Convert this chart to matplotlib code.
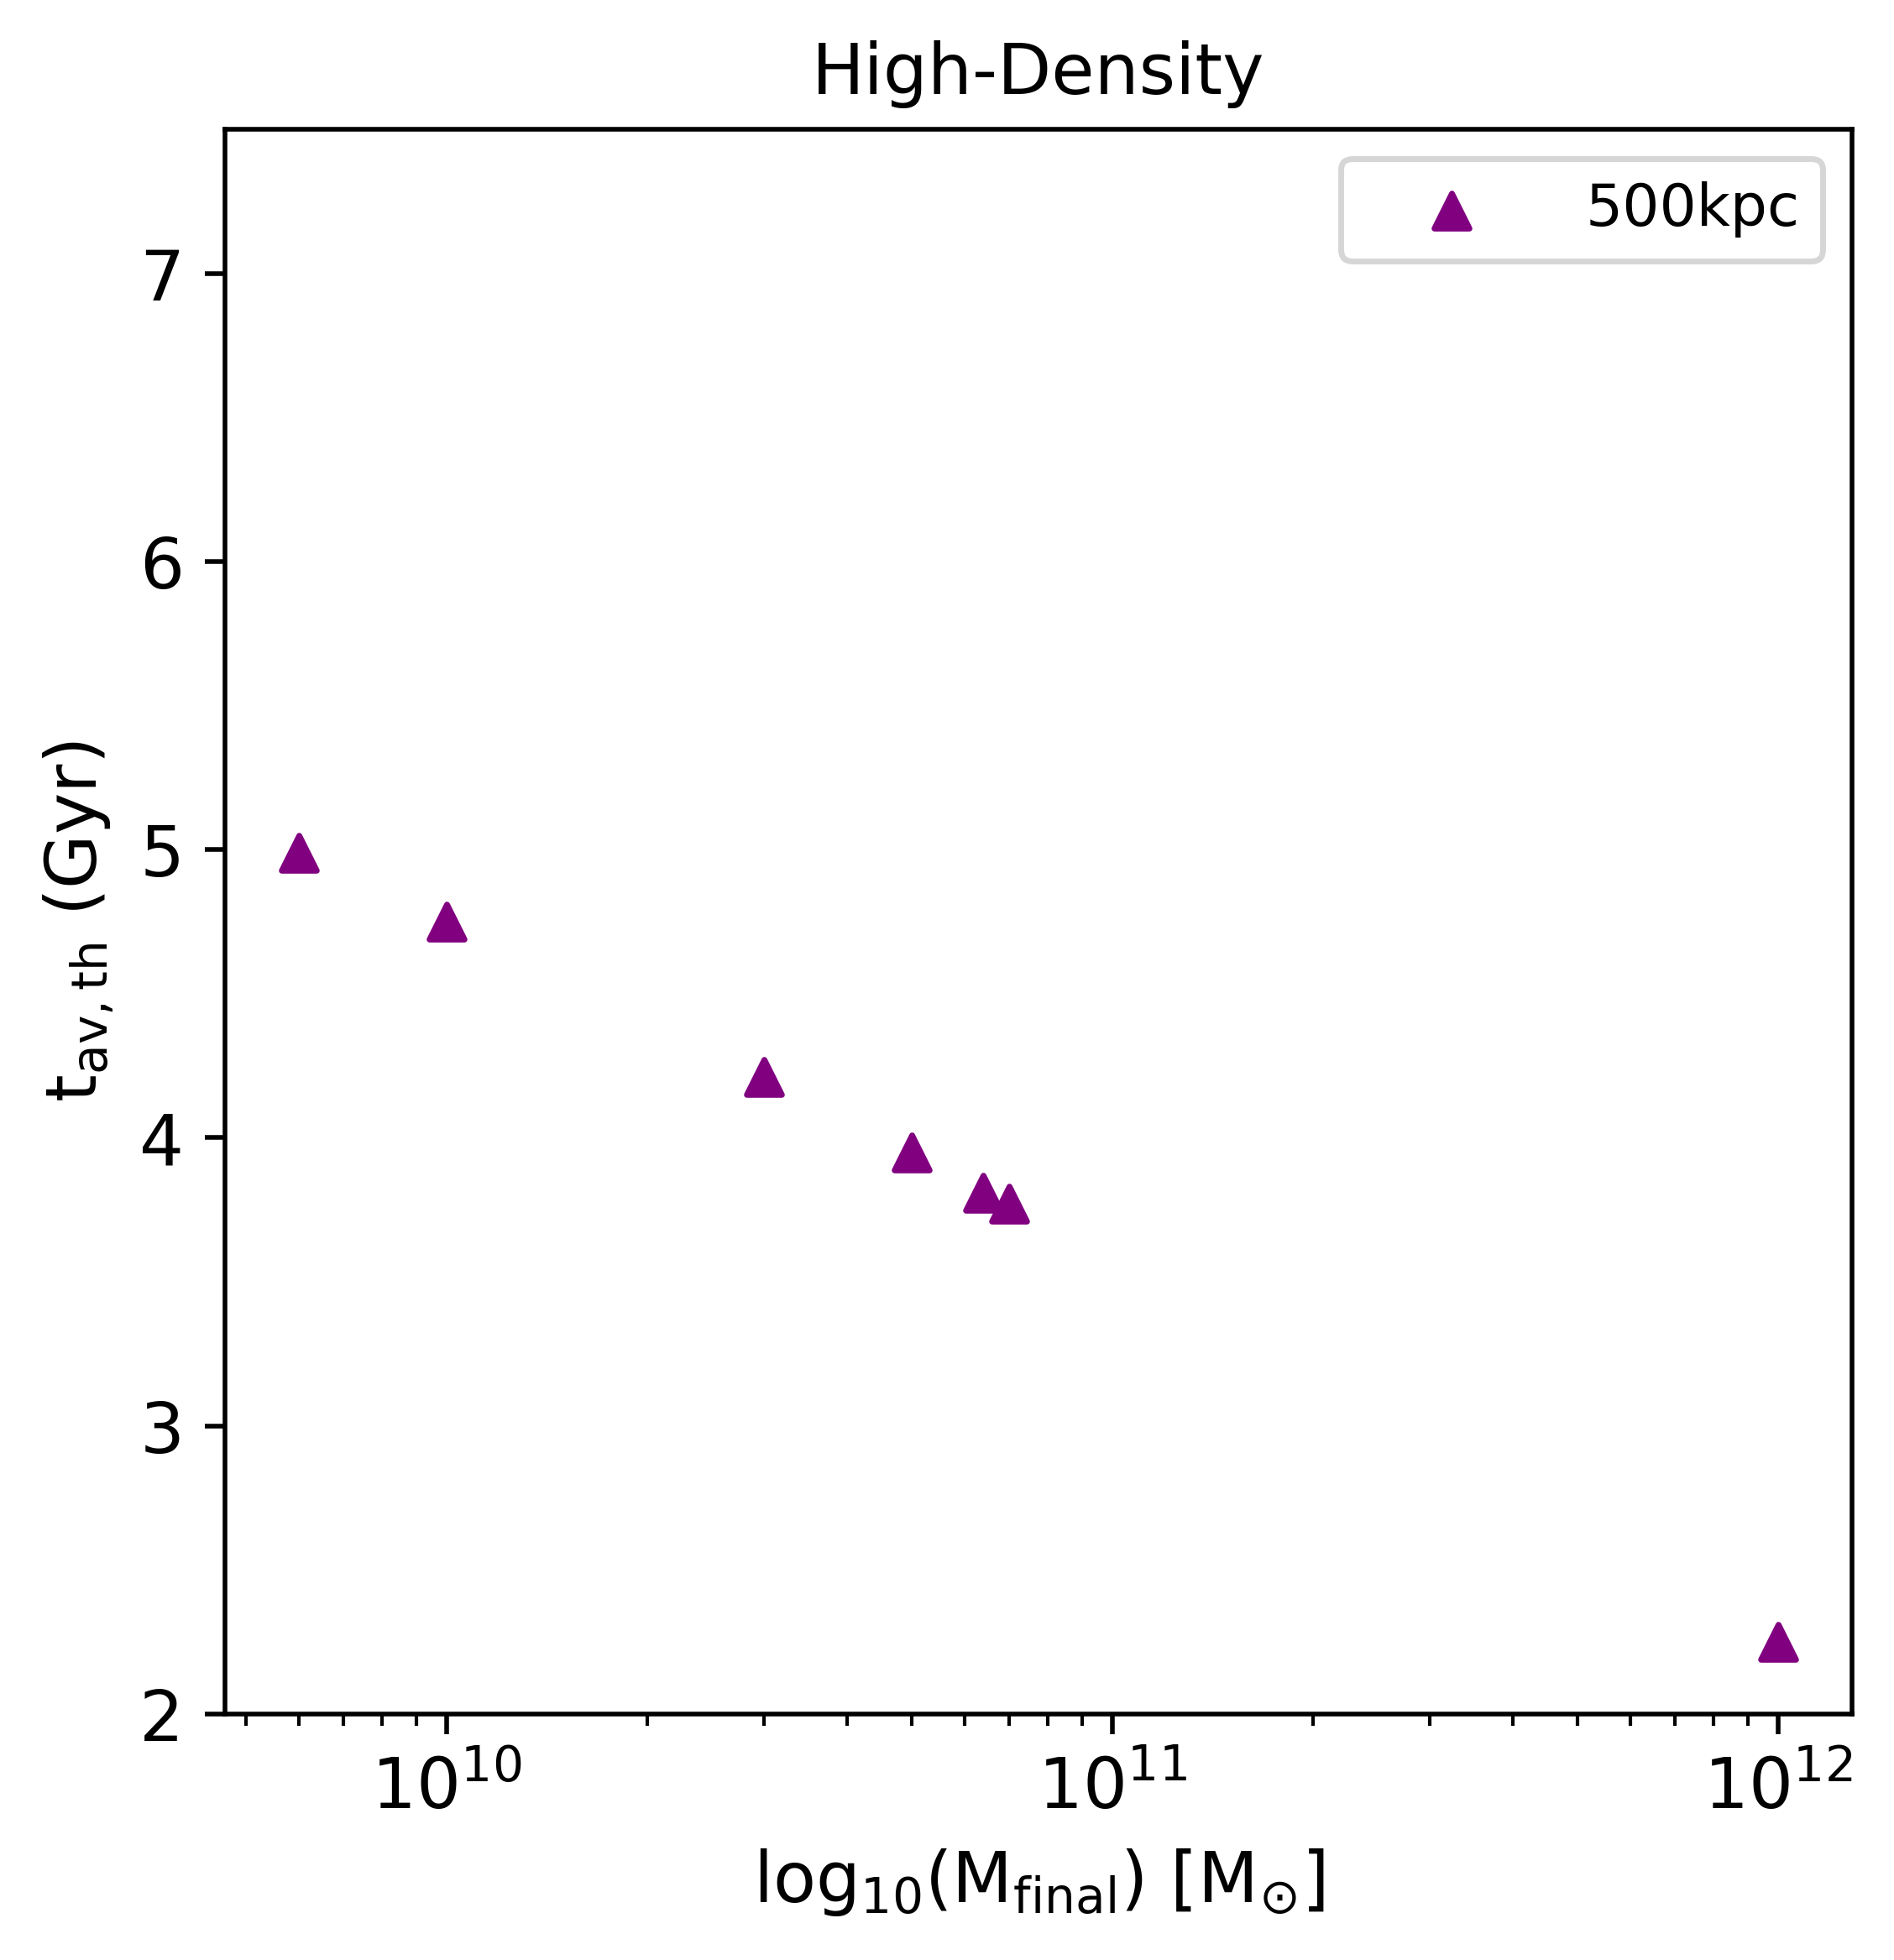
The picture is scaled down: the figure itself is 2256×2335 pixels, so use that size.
import numpy as np
import matplotlib
matplotlib.use("Agg")
import matplotlib.pyplot as plt

# final halo mass (Msun) and average thermalisation time (Gyr), 500kpc run
mass_final = [6.0e9, 1.0e10, 3.0e10, 5.0e10, 6.4e10, 7.0e10, 1.0e12]
t_av_th = [4.99, 4.75, 4.21, 3.95, 3.81, 3.77, 2.25]

fig = plt.figure(figsize=(4.512, 4.67), dpi=500)
ax = fig.add_axes([0.1188, 0.1255, 0.8590, 0.8086])

ax.scatter(mass_final, t_av_th, marker="^", color="purple", s=36, label="500kpc")
ax.set_xscale("log")
ax.set_ylim(2, 7.5)
ax.set_yticks([2, 3, 4, 5, 6, 7])

ax.set_title("High-Density", fontsize=12)
ax.set_xlabel(r"$\mathrm{log_{10}(M_{final})}$ [M$_{\odot}$]", fontsize=12)
ax.set_ylabel(r"$\mathrm{t_{av, th}}$ (Gyr)", fontsize=12)
ax.tick_params(axis="both", which="major", labelsize=12)

ax.legend(loc="upper right", fontsize=10, handlelength=3)

fig.savefig("out.png", dpi=500)
